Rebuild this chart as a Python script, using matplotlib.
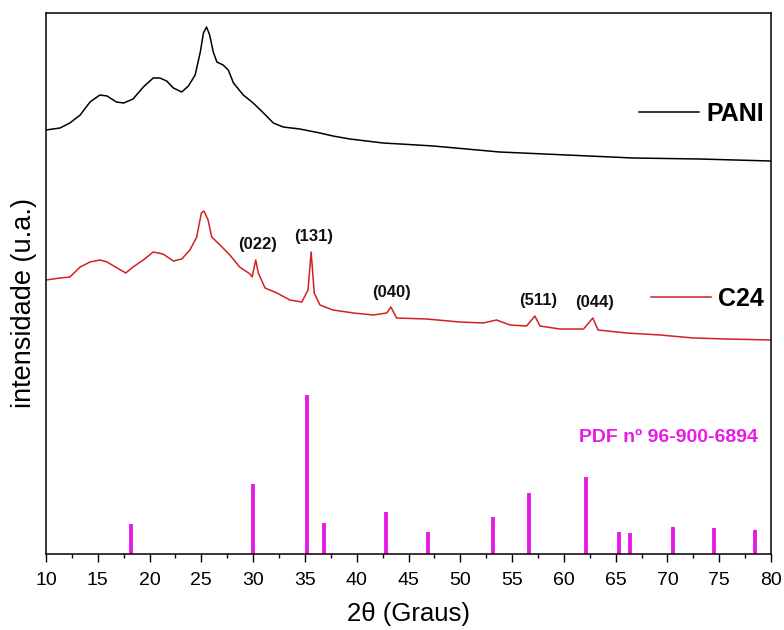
import matplotlib.pyplot as plt
from matplotlib.lines import Line2D

plt.rcParams['font.family'] = ['Liberation Sans', 'DejaVu Sans']

# ── Data (2θ in degrees, intensity in arbitrary units) ──
pani_2theta = [10.0, 11.35, 12.3, 13.3, 14.25, 15.2, 15.9, 16.8, 17.5, 18.4,
               19.4, 20.35, 21.0, 21.65, 22.3, 23.1, 23.75, 24.4, 24.9, 25.2,
               25.5, 25.8, 26.15, 26.5, 27.1, 27.6, 28.1, 29.05, 30.0, 31.0,
               31.95, 32.9, 34.5, 36.45, 37.7, 39.35, 40.95, 42.55, 44.2, 47.4,
               53.8, 60.3, 66.7, 73.1, 80.0]
pani_int = [424, 426, 431, 439, 452, 459, 458, 452, 451, 455,
            467, 476, 476, 473, 466, 462, 468, 479, 502, 521,
            527, 519, 502, 492, 489, 484, 471, 459, 451, 441,
            431, 427, 425, 421, 418, 415, 413, 411, 410, 408,
            402, 399, 396, 395, 393]

c24_2theta = [10.0, 11.35, 12.3, 13.3, 14.25, 15.2, 15.9, 16.7, 17.7, 18.4,
              19.4, 20.35, 21.3, 22.3, 23.1, 23.9, 24.55, 25.0, 25.25, 25.65,
              26.0, 26.8, 27.75, 28.7, 29.7, 29.9, 30.25, 30.5, 31.15, 32.3,
              33.55, 34.7, 35.3, 35.6, 35.9, 36.45, 37.7, 39.7, 41.6, 42.9,
              43.3, 43.85, 46.75, 49.95, 52.2, 53.5, 54.8, 56.4, 57.2, 57.7,
              59.6, 61.9, 62.8, 63.3, 66.05, 69.3, 72.5, 75.7, 80.0]
c24_int = [274, 276, 277, 287, 292, 294, 292, 287, 281, 287,
           294, 302, 300, 293, 295, 304, 317, 341, 343, 334,
           317, 309, 299, 287, 280, 277, 294, 281, 266, 261,
           254, 252, 264, 302, 261, 249, 244, 241, 239, 241,
           247, 236, 235, 232, 231, 234, 229, 228, 238, 228,
           225, 225, 236, 224, 221, 219, 216, 215, 214]

pdf_2theta = [18.24, 29.95, 35.23, 36.87, 42.83, 46.88, 53.13, 56.63,
              62.17, 65.36, 66.42, 70.5, 74.5, 78.49]
pdf_int = [30, 70, 159, 31, 42, 22, 37, 61, 77, 22, 21, 27, 26, 24]

hkl_labels = ['(022)', '(131)', '(040)', '(511)', '(044)']
hkl_x = [30.47, 35.83, 43.37, 57.53, 62.97]
hkl_y = [309, 317, 262, 253, 252]

BLACK = '#000000'
RED = '#d41f1f'
MAGENTA = '#e61ce6'

fig = plt.figure(figsize=(7.84, 6.3), dpi=100, facecolor='white')
ax = fig.add_axes([46 / 784, 76 / 630, 725 / 784, 541 / 630])

ax.plot(pani_2theta, pani_int, color=BLACK, lw=1.1)
ax.plot(c24_2theta, c24_int, color=RED, lw=1.1)
ax.vlines(pdf_2theta, 0, pdf_int, color=MAGENTA, lw=2.8)

for lab, x, y in zip(hkl_labels, hkl_x, hkl_y):
    ax.text(x, y, lab, ha='center', va='center', fontsize=12,
            fontweight='bold', color='#111111')

ax.text(78.7, 117, 'PDF nº 96-900-6894', ha='right', va='center',
        fontsize=14, fontweight='bold', color=MAGENTA)

# ── Two separate legend entries, as in the original ──
leg1 = ax.legend(handles=[Line2D([], [], color=BLACK, lw=1.1)], labels=['PANI'],
                 loc='center right', bbox_to_anchor=(0.99, 0.813),
                 frameon=False, handlelength=2.4, handletextpad=0.3,
                 borderpad=0, borderaxespad=0,
                 prop={'size': 18, 'weight': 'bold'})
ax.add_artist(leg1)
ax.legend(handles=[Line2D([], [], color=RED, lw=1.1)], labels=['C24'],
          loc='center right', bbox_to_anchor=(0.99, 0.471),
          frameon=False, handlelength=2.4, handletextpad=0.3,
          borderpad=0, borderaxespad=0,
          prop={'size': 18, 'weight': 'bold'})

ax.set_xlim(10, 80)
ax.set_ylim(0, 541)
ax.set_xticks(range(10, 81, 5))
ax.set_xticks([x + 2.5 for x in range(10, 80, 5)], minor=True)
ax.set_yticks([])
ax.tick_params(axis='x', which='major', direction='out', length=6, width=1,
               labelsize=14, pad=7)
ax.tick_params(axis='x', which='minor', direction='out', length=3.2, width=1)
for sp in ax.spines.values():
    sp.set_linewidth(1.1)

ax.set_xlabel('2θ (Graus)', fontsize=18.5)
ax.xaxis.set_label_coords(0.5, -0.088)
ax.set_ylabel('intensidade (u.a.)', fontsize=19.5)
ax.yaxis.set_label_coords(-0.013, 0.464)

fig.savefig('out.png', dpi=100, facecolor='white')
